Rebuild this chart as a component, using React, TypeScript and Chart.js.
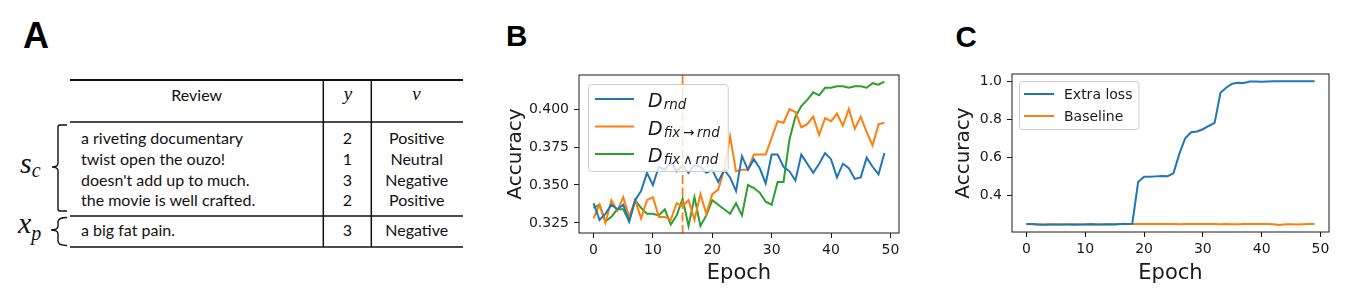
import React, { useEffect, useRef } from 'react';
import { Chart, registerables } from 'chart.js';

Chart.register(...registerables);

// ---------- data ----------
const EPOCHS = Array.from({ length: 50 }, (_, i) => i);
const X_TICKS = [0, 10, 20, 30, 40, 50];
const B_Y_TICKS = [0.325, 0.35, 0.375, 0.4];
const C_Y_TICKS = [0.4, 0.6, 0.8, 1.0];
const B_MARKER_EPOCH = 15;

const B_RND = [
  0.338, 0.327, 0.331, 0.337, 0.334, 0.337, 0.326, 0.340, 0.346, 0.358,
  0.350, 0.362, 0.360, 0.365, 0.359, 0.363, 0.358, 0.363, 0.362, 0.358,
  0.360, 0.352, 0.360, 0.355, 0.346, 0.369, 0.360, 0.367, 0.361, 0.351,
  0.370, 0.370, 0.362, 0.359, 0.353, 0.370, 0.364, 0.358, 0.364, 0.371,
  0.367, 0.355, 0.364, 0.361, 0.354, 0.355, 0.368, 0.362, 0.357, 0.371,
];
const B_FIX_TO_RND = [
  0.328, 0.337, 0.325, 0.340, 0.333, 0.342, 0.329, 0.340, 0.328, 0.340,
  0.342, 0.329, 0.329, 0.327, 0.338, 0.336, 0.340, 0.327, 0.344, 0.331,
  0.344, 0.347, 0.360, 0.382, 0.359, 0.360, 0.360, 0.370, 0.370, 0.370,
  0.381, 0.392, 0.391, 0.400, 0.398, 0.388, 0.390, 0.395, 0.383, 0.394,
  0.392, 0.397, 0.389, 0.400, 0.387, 0.395, 0.385, 0.376, 0.390, 0.391,
];
const B_FIX_AND_RND = [
  0.335, 0.337, 0.326, 0.329, 0.334, 0.334, 0.326, 0.340, 0.335, 0.331,
  0.331, 0.330, 0.334, 0.324, 0.330, 0.341, 0.323, 0.342, 0.323, 0.330,
  0.340, 0.337, 0.334, 0.331, 0.338, 0.330, 0.350, 0.348, 0.345, 0.339,
  0.337, 0.352, 0.352, 0.380, 0.395, 0.402, 0.406, 0.411, 0.409, 0.414,
  0.414, 0.415, 0.415, 0.414, 0.415, 0.415, 0.414, 0.417, 0.416, 0.418,
];

const C_EXTRA_LOSS = [
  0.252, 0.252, 0.250, 0.248, 0.250, 0.250, 0.250, 0.250, 0.249, 0.250,
  0.250, 0.251, 0.250, 0.250, 0.251, 0.250, 0.252, 0.252, 0.254, 0.472,
  0.500, 0.500, 0.502, 0.504, 0.503, 0.518, 0.620, 0.702, 0.733, 0.737,
  0.749, 0.766, 0.782, 0.940, 0.968, 0.988, 0.992, 0.991, 0.999, 0.999,
  0.998, 0.999, 1.000, 1.000, 1.000, 1.000, 1.000, 1.000, 1.000, 1.000,
];
const C_BASELINE = [
  0.252, 0.251, 0.250, 0.250, 0.251, 0.250, 0.250, 0.251, 0.251, 0.250,
  0.251, 0.253, 0.250, 0.251, 0.251, 0.251, 0.252, 0.252, 0.253, 0.253,
  0.252, 0.252, 0.252, 0.252, 0.252, 0.252, 0.251, 0.252, 0.252, 0.252,
  0.252, 0.252, 0.252, 0.251, 0.252, 0.251, 0.251, 0.252, 0.252, 0.252,
  0.252, 0.252, 0.251, 0.247, 0.251, 0.251, 0.250, 0.251, 0.252, 0.252,
];

const TABLE_REVIEWS = [
  'a riveting documentary',
  'twist open the ouzo!',
  "doesn't add up to much.",
  'the movie is well crafted.',
  'a big fat pain.',
];
const TABLE_Y = ['2', '1', '3', '2', '3'];
const TABLE_V = ['Positive', 'Neutral', 'Negative', 'Positive', 'Negative'];

// ---------- style ----------
const BLUE = '#1f77b4';
const ORANGE = '#ff7f0e';
const GREEN = '#2ca02c';
const INK = '#1a1a1a';
const FONT = '"DejaVu Sans", sans-serif';

function framePlugin(markerX: number | null) {
  return {
    id: 'frame',
    afterDatasetsDraw(chart: any) {
      const { ctx, chartArea: a } = chart;
      ctx.save();
      if (markerX !== null) {
        const x = chart.scales.x.getPixelForValue(markerX);
        ctx.strokeStyle = ORANGE;
        ctx.lineWidth = 1.8;
        ctx.setLineDash([9, 3.5]);
        ctx.beginPath();
        ctx.moveTo(x, a.top);
        ctx.lineTo(x, a.bottom);
        ctx.stroke();
        ctx.setLineDash([]);
      }
      ctx.strokeStyle = INK;
      ctx.lineWidth = 1;
      ctx.strokeRect(a.left, a.top, a.right - a.left, a.bottom - a.top);
      ctx.restore();
    },
  };
}

type LegendCfg = {
  labels: { main: string; sub: string }[];
  mainFont: string;
  subFont: string;
  offset: number;
  padL: number;
  padR: number;
  padT: number;
  padB: number;
  rowH: number;
  handle: number;
  gap: number;
  baseOff: number;
  subDrop: number;
};

function legendPlugin(cfg: LegendCfg) {
  return {
    id: 'innerLegend',
    afterDraw(chart: any) {
      const { ctx, chartArea: a } = chart;
      const ds = chart.data.datasets;
      ctx.save();
      let maxW = 0;
      cfg.labels.forEach((l) => {
        ctx.font = cfg.mainFont;
        let w = ctx.measureText(l.main).width;
        if (l.sub) {
          ctx.font = cfg.subFont;
          w += ctx.measureText(l.sub).width + 1;
        }
        maxW = Math.max(maxW, w);
      });
      const x0 = a.left + cfg.offset;
      const y0 = a.top + cfg.offset;
      const w = cfg.padL + cfg.handle + cfg.gap + maxW + cfg.padR;
      const h = cfg.padT + cfg.rowH * (cfg.labels.length - 1) + cfg.padB;
      ctx.beginPath();
      ctx.roundRect(x0 + 0.5, y0 + 0.5, w, h, 3);
      ctx.fillStyle = 'rgba(255,255,255,0.8)';
      ctx.fill();
      ctx.strokeStyle = '#cccccc';
      ctx.lineWidth = 1;
      ctx.stroke();
      cfg.labels.forEach((l, i) => {
        const cy = y0 + cfg.padT + i * cfg.rowH;
        ctx.strokeStyle = ds[i].borderColor;
        ctx.lineWidth = 2;
        ctx.beginPath();
        ctx.moveTo(x0 + cfg.padL, cy);
        ctx.lineTo(x0 + cfg.padL + cfg.handle, cy);
        ctx.stroke();
        let tx = x0 + cfg.padL + cfg.handle + cfg.gap;
        ctx.fillStyle = INK;
        ctx.textBaseline = 'alphabetic';
        ctx.textAlign = 'left';
        ctx.font = cfg.mainFont;
        ctx.fillText(l.main, tx, cy + cfg.baseOff);
        tx += ctx.measureText(l.main).width + 1;
        if (l.sub) {
          ctx.font = cfg.subFont;
          ctx.fillText(l.sub, tx, cy + cfg.baseOff + cfg.subDrop);
        }
      });
      ctx.restore();
    },
  };
}

type Series = { name: string; values: number[]; color: string };

function buildConfig(p: {
  series: Series[];
  yMin: number;
  yMax: number;
  yTicks: number[];
  yDigits: number;
  padding: any;
  yWidth: number;
  xHeight: number;
  yTitlePad: number;
  marker: number | null;
  legend: LegendCfg;
}) {
  const tickFont = { family: FONT, size: 14 };
  const grid = {
    display: true,
    drawOnChartArea: false,
    drawTicks: true,
    tickLength: 5,
    color: INK,
    lineWidth: 1,
  };
  return {
    type: 'line',
    data: {
      datasets: p.series.map((s) => ({
        label: s.name,
        data: EPOCHS.map((e, i) => ({ x: e, y: s.values[i] })),
        borderColor: s.color,
        backgroundColor: s.color,
        borderWidth: 2,
        pointRadius: 0,
        tension: 0,
        fill: false,
      })),
    },
    options: {
      responsive: false,
      animation: false,
      devicePixelRatio: 1,
      events: [],
      layout: { padding: p.padding },
      plugins: { legend: { display: false }, tooltip: { enabled: false } },
      scales: {
        x: {
          type: 'linear',
          min: -2.45,
          max: 51.45,
          afterBuildTicks: (s: any) => {
            s.ticks = X_TICKS.map((v) => ({ value: v }));
          },
          afterFit: (s: any) => {
            s.height = p.xHeight;
          },
          ticks: {
            font: tickFont,
            color: INK,
            padding: 4,
            maxRotation: 0,
            autoSkip: false,
            callback: (v: any) => String(v),
          },
          grid,
          border: { display: false },
          title: {
            display: true,
            text: 'Epoch',
            color: INK,
            font: { family: FONT, size: 21, lineHeight: 1.2 },
            padding: { top: 0, bottom: 13.9 },
          },
        },
        y: {
          type: 'linear',
          min: p.yMin,
          max: p.yMax,
          afterBuildTicks: (s: any) => {
            s.ticks = p.yTicks.map((v) => ({ value: v }));
          },
          afterFit: (s: any) => {
            s.width = p.yWidth;
          },
          ticks: {
            font: tickFont,
            color: INK,
            padding: 5,
            autoSkip: false,
            callback: (v: any) => Number(v).toFixed(p.yDigits),
          },
          grid,
          border: { display: false },
          title: {
            display: true,
            text: 'Accuracy',
            color: INK,
            font: { family: FONT, size: 20, lineHeight: 1.2 },
            padding: { top: p.yTitlePad, bottom: 0 },
          },
        },
      },
    },
    plugins: [framePlugin(p.marker), legendPlugin(p.legend)],
  };
}

function ChartCanvas({ left, width, make }: { left: number; width: number; make: () => any }) {
  const ref = useRef<HTMLCanvasElement | null>(null);
  useEffect(() => {
    const chart = new Chart(ref.current as HTMLCanvasElement, make());
    return () => chart.destroy();
  }, []);
  return (
    <canvas
      ref={ref}
      width={width}
      height={300}
      style={{ position: 'absolute', left, top: 0, width, height: 300 }}
    />
  );
}

const makeB = () =>
  buildConfig({
    series: [
      { name: 'D_rnd', values: B_RND, color: BLUE },
      { name: 'D_fix→rnd', values: B_FIX_TO_RND, color: ORANGE },
      { name: 'D_fix∧rnd', values: B_FIX_AND_RND, color: GREEN },
    ],
    yMin: 0.3184,
    yMax: 0.4224,
    yTicks: B_Y_TICKS,
    yDigits: 3,
    padding: { left: 0, top: 75, right: 21, bottom: 0 },
    yWidth: 99,
    xHeight: 67,
    yTitlePad: 23.4,
    marker: B_MARKER_EPOCH,
    legend: {
      labels: [
        { main: 'D', sub: 'rnd' },
        { main: 'D', sub: 'fix\u2009\u2192\u2009rnd' },
        { main: 'D', sub: 'fix\u2009\u2227\u2009rnd' },
      ],
      mainFont: `italic 19px ${FONT}`,
      subFont: `italic 13.5px ${FONT}`,
      offset: 9,
      padL: 7,
      padR: 8,
      padT: 15,
      padB: 17,
      rowH: 27.5,
      handle: 39,
      gap: 14,
      baseOff: 8,
      subDrop: 2,
    },
  });

const makeC = () =>
  buildConfig({
    series: [
      { name: 'Extra loss', values: C_EXTRA_LOSS, color: BLUE },
      { name: 'Baseline', values: C_BASELINE, color: ORANGE },
    ],
    yMin: 0.2105,
    yMax: 1.0385,
    yTicks: C_Y_TICKS,
    yDigits: 1,
    padding: { left: 0, top: 74, right: 24, bottom: 0 },
    yWidth: 92,
    xHeight: 68,
    yTitlePad: 32.1,
    marker: null,
    legend: {
      labels: [
        { main: 'Extra loss', sub: '' },
        { main: 'Baseline', sub: '' },
      ],
      mainFont: `14px ${FONT}`,
      subFont: `14px ${FONT}`,
      offset: 7,
      padL: 5,
      padR: 6,
      padT: 13,
      padB: 13,
      rowH: 22,
      handle: 30,
      gap: 10,
      baseOff: 5,
      subDrop: 0,
    },
  });

const TABLE_FONT = 'Lato, "Open Sans", sans-serif';
const MATH_FONT = '"Liberation Serif", "DejaVu Serif", serif';
const ROW_BASELINES = [144, 165, 185.5, 206, 236];
const TABLE_SIZE = 16;

function PanelA() {
  const lineStyle = { stroke: '#111', fill: 'none' };
  return (
    <svg
      width={1353}
      height={300}
      style={{ position: 'absolute', left: 0, top: 0 }}
      xmlns="http://www.w3.org/2000/svg"
    >
      <text x={23} y={47.7} fontFamily='"Liberation Sans", Arial, sans-serif' fontWeight="bold" fontSize={36} fill="#000">A</text>
      <text x={506} y={46} fontFamily='"Liberation Sans", Arial, sans-serif' fontWeight="bold" fontSize={29.5} fill="#000">B</text>
      <text x={955.5} y={46.5} fontFamily='"Liberation Sans", Arial, sans-serif' fontWeight="bold" fontSize={29.5} fill="#000">C</text>

      {/* table rules */}
      <line x1={70} x2={463} y1={80} y2={80} {...lineStyle} strokeWidth={2} />
      <line x1={70} x2={463} y1={122} y2={122} {...lineStyle} strokeWidth={1.5} />
      <line x1={70} x2={463} y1={216} y2={216} {...lineStyle} strokeWidth={1.5} />
      <line x1={70} x2={463} y1={247} y2={247} {...lineStyle} strokeWidth={1.5} />
      <line x1={323.3} x2={323.3} y1={80} y2={247} {...lineStyle} strokeWidth={1.5} />
      <line x1={371.3} x2={371.3} y1={80} y2={247} {...lineStyle} strokeWidth={1.5} />

      {/* header */}
      <text x={196.7} y={100.5} textAnchor="middle" fontFamily={TABLE_FONT} fontSize={TABLE_SIZE} fill="#111">Review</text>
      <text x={348} y={100} textAnchor="middle" fontFamily={MATH_FONT} fontStyle="italic" fontSize={19} fill="#111">y</text>
      <text x={416.5} y={100} textAnchor="middle" fontFamily={MATH_FONT} fontStyle="italic" fontSize={19} fill="#111">v</text>

      {TABLE_REVIEWS.map((r, i) => (
        <g key={i}>
          <text x={81} y={ROW_BASELINES[i]} fontFamily={TABLE_FONT} fontSize={TABLE_SIZE} fill="#111">{r}</text>
          <text x={347.3} y={ROW_BASELINES[i]} textAnchor="middle" fontFamily={TABLE_FONT} fontSize={TABLE_SIZE} fill="#111">{TABLE_Y[i]}</text>
          <text x={416.7} y={ROW_BASELINES[i]} textAnchor="middle" fontFamily={TABLE_FONT} fontSize={TABLE_SIZE} fill="#111">{TABLE_V[i]}</text>
        </g>
      ))}

      {/* braces */}
      <path d="M67,125 L60,125 Q58,125 58,127 L58,163 Q58,167 52,167 Q58,167 58,171 L58,209 Q58,211 60,211 L67,211" {...lineStyle} strokeWidth={1.4} />
      <path d="M67,217.5 Q58,217.5 58,222 L58,226 Q58,230 51,230 Q58,230 58,234 L58,241 Q58,245.5 67,245.5" {...lineStyle} strokeWidth={1.4} />

      {/* set labels */}
      <text x={20} y={173} fontFamily={MATH_FONT} fontStyle="italic" fontSize={30} fill="#111">
        s<tspan fontSize={20} dy={4}>c</tspan>
      </text>
      <text x={18} y={233} fontFamily={MATH_FONT} fontStyle="italic" fontSize={30} fill="#111">
        x<tspan fontSize={20} dy={7}>p</tspan>
      </text>
    </svg>
  );
}

export default function App() {
  return (
    <div style={{ position: 'absolute', left: 0, top: 0, width: 1353, height: 300, background: '#fff', overflow: 'hidden' }}>
      <PanelA />
      <ChartCanvas left={480} width={440} make={makeB} />
      <ChartCanvas left={920} width={433} make={makeC} />
    </div>
  );
}
